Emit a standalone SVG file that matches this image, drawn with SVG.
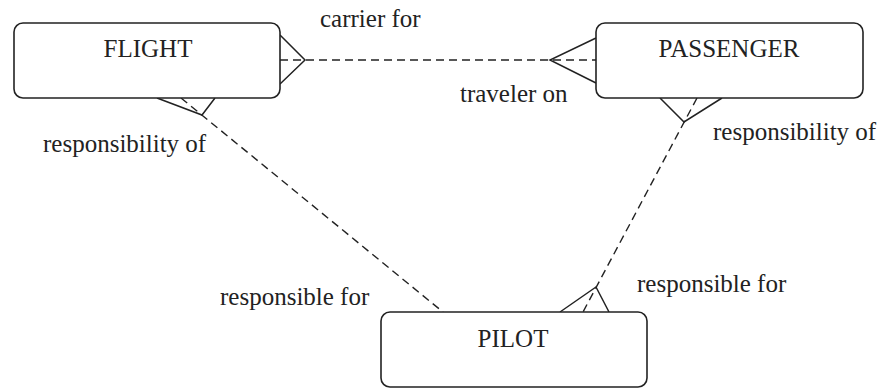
<svg xmlns="http://www.w3.org/2000/svg" width="881" height="389" viewBox="0 0 881 389">
<style>
.box{fill:#fff;stroke:#222;stroke-width:1.6}
text{font-family:"Liberation Serif","Times New Roman",serif;font-size:25px;fill:#222}
.name{text-anchor:middle}
.dash{fill:none;stroke:#222;stroke-width:1.4;stroke-dasharray:8 5}
.foot{fill:none;stroke:#222;stroke-width:1.5;stroke-linejoin:miter}
</style>
<rect width="881" height="389" fill="#fff"/>
<g id="connectors">
<line class="dash" x1="280" y1="60" x2="596" y2="60"/>
<polyline class="foot" points="280,35 305,60 280,84"/>
<polyline class="foot" points="596,38 550,60 596,83"/>
<line class="dash" x1="181" y1="98" x2="443" y2="312"/>
<polyline class="foot" points="157,98 202,115 215,98"/>
<line class="dash" x1="697" y1="98" x2="583" y2="312"/>
<polyline class="foot" points="660,98 684,122 722,98"/>
<polyline class="foot" points="560,312 596,287 609,312"/>
</g>
<g id="flight">
<rect class="box" x="14" y="23" width="266" height="75" rx="9"/>
<text class="name" x="148" y="57" font-family="Liberation Serif, serif">FLIGHT</text>
</g>
<g id="passenger">
<rect class="box" x="596" y="23" width="267" height="75" rx="9"/>
<text class="name" x="729" y="57" font-family="Liberation Serif, serif">PASSENGER</text>
</g>
<g id="pilot">
<rect class="box" x="381" y="312" width="266" height="75" rx="9"/>
<text class="name" x="513" y="347" font-family="Liberation Serif, serif">PILOT</text>
</g>
<g id="labels">
<text x="320" y="27" font-family="Liberation Serif, serif">carrier for</text>
<text x="460" y="102" font-family="Liberation Serif, serif">traveler on</text>
<text x="43" y="152" font-family="Liberation Serif, serif">responsibility of</text>
<text x="713" y="140" font-family="Liberation Serif, serif">responsibility of</text>
<text x="220" y="305" font-family="Liberation Serif, serif">responsible for</text>
<text x="637" y="292" font-family="Liberation Serif, serif">responsible for</text>
</g>
</svg>
